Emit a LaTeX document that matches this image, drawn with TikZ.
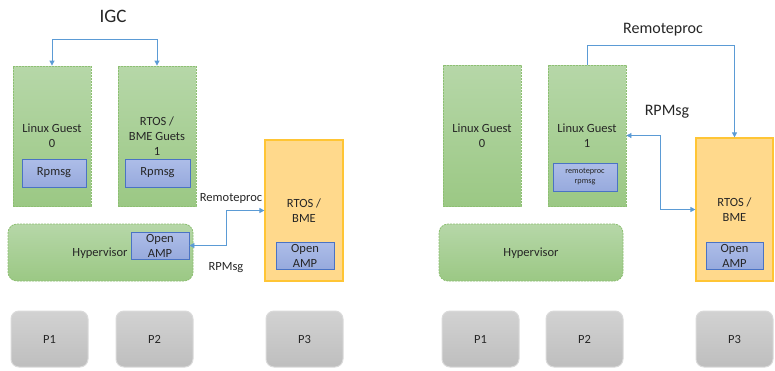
\documentclass[tikz,border=0pt]{standalone}
\usepackage{fontspec}
\setmainfont{Carlito}
\usetikzlibrary{arrows.meta}
\definecolor{gtop}{HTML}{B6D7A8}
\definecolor{gbot}{HTML}{9BC884}
\definecolor{gdraw}{HTML}{8DBF72}
\definecolor{btop}{HTML}{ADBDE8}
\definecolor{bbot}{HTML}{97AADD}
\definecolor{bdraw}{HTML}{4A73C4}
\definecolor{ofill}{HTML}{FFD98C}
\definecolor{odraw}{HTML}{FFC535}
\definecolor{ptop}{HTML}{D2D2D2}
\definecolor{pbot}{HTML}{BEBEBE}
\definecolor{pdraw}{HTML}{DADADA}
\definecolor{arrc}{HTML}{5B9BD5}
\definecolor{txt}{HTML}{262626}
\tikzset{
  every node/.style={text=txt, font=\fontsize{12.5}{15}\selectfont, inner sep=0pt, align=center},
  guest/.style={draw=gdraw, dash pattern=on 2pt off 1pt, line width=0.8pt, top color=gtop, bottom color=gbot},
  hyper/.style={guest, rounded corners=9pt},
  inner/.style={draw=bdraw, line width=0.8pt, top color=btop, bottom color=bbot},
  rtosbox/.style={draw=odraw, line width=1.2pt, fill=ofill},
  proc/.style={draw=pdraw, line width=1pt, top color=ptop, bottom color=pbot, rounded corners=8pt},
  arr/.style={draw=arrc, line width=0.8pt, arrows={-Triangle[length=5pt,width=5pt]}},
  darr/.style={draw=arrc, line width=0.8pt, arrows={Triangle[length=5pt,width=5pt]-Triangle[length=5pt,width=5pt]}},
  lbl/.style={font=\fontsize{12.5}{15}\selectfont},
}
\begin{document}
\begin{tikzpicture}[x=1pt,y=-1pt]
\useasboundingbox (0,0) rectangle (775,370);
% ---------- left panel ----------
\node[font=\fontsize{19}{22}\selectfont] (igc) at (113,16) {IGC};
\node[guest, minimum width=78, minimum height=140] (lg0) at (52,136) {Linux Guest\\0};
\node[inner, minimum width=64, minimum height=28] (rp0) at (54,173) {Rpmsg};
\node[guest, minimum width=78, minimum height=140] (bg1) at (157,136) {RTOS /\\BME Guets\\1};
\node[inner, minimum width=65, minimum height=28] (rp1) at (157.5,173) {Rpmsg};
\node[hyper, minimum width=185, minimum height=57] (hv1) at (100.5,252.5) {};
\node (hvt1) at (100,253) {Hypervisor};
\node[inner, minimum width=58, minimum height=27] (oa1) at (160,245.5) {Open\\AMP};
\node[rtosbox, minimum width=78, minimum height=141] (rtL) at (304,210.5) {RTOS /\\BME};
\node[inner, minimum width=58, minimum height=27] (oa2) at (305,255.5) {Open\\AMP};
\node[lbl] (rpL) at (231,198) {Remoteproc};
\node[lbl] (rmL) at (226,268) {RPMsg};
\node[proc, minimum width=77, minimum height=56] (p1L) at (49.5,339) {P1};
\node[proc, minimum width=77, minimum height=56] (p2L) at (154.5,339) {P2};
\node[proc, minimum width=77, minimum height=56] (p3L) at (304.5,339) {P3};
\draw[darr] (lg0.north) -- ++(0,-26) -| (bg1.north);
\draw[darr] (oa1.east) -- ++(37,0) |- (rtL.west);
% ---------- right panel ----------
\node[font=\fontsize{16}{19}\selectfont] (rpR) at (663,30) {Remoteproc};
\node[font=\fontsize{16}{19}\selectfont] (rmR) at (667,112) {RPMsg};
\node[guest, minimum width=78, minimum height=141] (lg0R) at (482,135.5) {Linux Guest\\0};
\node[guest, minimum width=78, minimum height=141] (lg1R) at (587,135.5) {Linux Guest\\1};
\node[inner, minimum width=64, minimum height=28, font=\fontsize{8.2}{10}\selectfont] (rrR) at (585,177) {remoteproc\\rpmsg};
\node[hyper, minimum width=184, minimum height=57] (hvR) at (531,252.5) {};
\node (hvtR) at (531,253) {Hypervisor};
\node[rtosbox, minimum width=77, minimum height=143] (rtR) at (734.5,209.5) {RTOS /\\BME};
\node[inner, minimum width=57, minimum height=27] (oaR) at (734.5,255.5) {Open\\AMP};
\node[proc, minimum width=77, minimum height=56] (p1R) at (480.5,339) {P1};
\node[proc, minimum width=77, minimum height=56] (p2R) at (584.5,339) {P2};
\node[proc, minimum width=77, minimum height=56] (p3R) at (734.5,339) {P3};
\draw[arr] (lg1R.north) -- ++(0,-19) -| (rtR.north);
\draw[darr] (lg1R.east) -- ++(34,0) |- (rtR.west);
\end{tikzpicture}
\end{document}
